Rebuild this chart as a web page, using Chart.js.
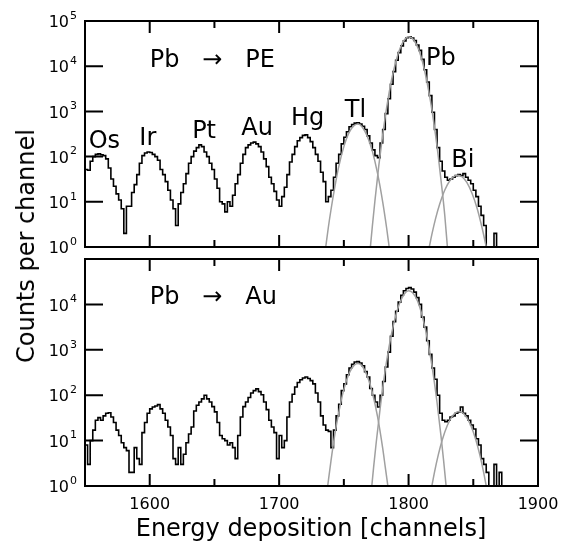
<!DOCTYPE html>
<html>
<head>
<meta charset="utf-8">
<script src="https://cdn.jsdelivr.net/npm/chart.js@4.4.0/dist/chart.umd.min.js"></script>
<style>
  body { margin: 0; background: #fff; }
  #wrap { position: relative; width: 569px; height: 541px; font-family: "DejaVu Sans", sans-serif; color: #000; }
  canvas { position: absolute; left: 0; }
  #topChart { top: 0; }
  #botChart { top: 250px; }
  .ytitle { position: absolute; left: 26px; top: 246px; transform: translate(-50%, -50%) rotate(-90deg); font-size: 24px; white-space: nowrap; }
  .xtitle { position: absolute; left: 311px; top: 528px; transform: translate(-50%, -50%); font-size: 24px; white-space: nowrap; }
</style>
</head>
<body>
<div id="wrap">
  <canvas id="topChart" width="569" height="262"></canvas>
  <canvas id="botChart" width="569" height="291"></canvas>
  <div class="ytitle">Counts per channel</div>
  <div class="xtitle">Energy deposition [channels]</div>
</div>
<script>
// histogram bins: 2 channels wide, first bin starts at channel 1550
const binStart = 1550;
const binWidth = 2;

// Pb -> PE, counts per bin (rows of 10 bins = 20 channels)
const countsPE = [
  52, 50, 79, 100, 112, 115, 110, 105, 89, 56,          // 1550
  32, 22, 15, 11, 7, 2, 8, 8, 16, 24,                   // 1570
  40, 71, 105, 120, 126, 123, 112, 100, 83, 52,         // 1590
  40, 28, 18, 11, 7, 3, 9, 16, 25, 42,                  // 1610
  71, 100, 132, 158, 182, 166, 126, 100, 71, 52,        // 1630
  32, 20, 10, 9, 6, 10, 8, 14, 25, 40,                  // 1650
  71, 112, 158, 182, 200, 209, 191, 166, 126, 89,       // 1670
  60, 35, 25, 17, 11, 8, 13, 21, 40, 76,                // 1690
  112, 166, 224, 263, 295, 302, 263, 214, 158, 112,     // 1710
  79, 45, 28, 10, 13, 18, 35, 71, 112, 191,             // 1730
  269, 355, 457, 513, 550, 562, 525, 468, 398, 288,     // 1750
  200, 141, 105, 95, 200, 398, 891, 1905, 3981, 7586,   // 1770
  13490, 19950, 28180, 36310, 42660, 44670, 41690, 37150, 29510, 22390, // 1790
  14130, 8318, 4467, 2239, 955, 398, 158, 79, 48, 35,   // 1810
  30, 32, 35, 38, 40, 38, 42, 35, 30, 25,               // 1830
  18, 13, 8, 5, 3, 0, 0, 0, 2, 0,                       // 1850
  0                                                     // 1870
];

// Pb -> Au
const countsAu = [
  8, 3, 10, 17, 28, 32, 28, 35, 40, 41,                 // 1550
  33, 25, 17, 13, 9, 7, 6, 2, 2, 7,                     // 1570
  4, 3, 15, 25, 40, 50, 55, 58, 62, 50,                 // 1590
  40, 28, 20, 13, 4, 3, 7, 3, 5, 9,                     // 1610
  14, 20, 45, 60, 71, 83, 100, 83, 71, 56,              // 1630
  43, 25, 13, 11, 10, 8, 9, 7, 4, 13,                   // 1650
  33, 56, 71, 89, 112, 126, 138, 120, 102, 71,          // 1670
  48, 28, 20, 15, 4, 13, 7, 10, 33, 71,                 // 1690
  105, 151, 191, 219, 240, 251, 234, 209, 178, 112,     // 1710
  71, 35, 22, 17, 16, 7, 17, 35, 63, 126,               // 1730
  178, 282, 398, 479, 537, 550, 513, 447, 331, 251,     // 1750
  141, 100, 71, 55, 100, 200, 417, 891, 1995, 4169,     // 1770
  7079, 11220, 15850, 19950, 22390, 23440, 21880, 18620, 14130, 10000, // 1790
  5248, 3162, 1585, 794, 398, 224, 100, 40, 28, 26,     // 1810
  28, 33, 35, 40, 43, 55, 40, 35, 28, 22,               // 1830
  18, 11, 8, 4, 3, 2, 0, 0, 3, 0,                       // 1850
  2, 0                                                  // 1870
];

// fitted peaks [channel, counts] (grey curves)
const fitTlPE = [[1736,1],[1738,2.7],[1740,6.5],[1743,21],[1746,59],[1750,166],[1754,339],[1758,490],[1761,525],[1764,457],[1768,288],[1772,132],[1776,43],[1780,10],[1783,2.7],[1785,1]];
const fitPbPE = [[1770.5,1],[1772,2.85],[1774,10.5],[1777,63],[1780,302],[1784,1780],[1788,7080],[1792,19000],[1796,35300],[1800,44700],[1804,38000],[1808,22400],[1812,8900],[1816,2400],[1820,447],[1823,98],[1826,17.4],[1828,4.9],[1830,1]];
const fitBiPE = [[1816,1],[1818,1.9],[1821,4.4],[1824,8.8],[1828,18.2],[1832,29.6],[1836,38],[1838,38.9],[1841,36.3],[1845,26.9],[1849,15.5],[1853,7.1],[1857,2.5],[1860,1]];

const fitTlAu = [[1737.5,1],[1740,3.5],[1743,13.5],[1746,41],[1750,134],[1754,300],[1758,460],[1761,500],[1764,445],[1768,270],[1772,115],[1776,34],[1780,6.8],[1782,2.6],[1784,1]];
const fitPbAu = [[1771.6,1],[1773,2.6],[1775,9.1],[1778,50],[1781,229],[1785,1200],[1789,4270],[1793,10500],[1797,17400],[1800,20000],[1803,18300],[1807,11700],[1811,5000],[1815,1480],[1819,295],[1822,69],[1825,13],[1827,3.8],[1829,1]];
const fitBiAu = [[1818,1],[1820,2],[1823,4.9],[1826,10.3],[1830,21.8],[1834,35],[1839,43.6],[1844,35],[1848,21.8],[1852,10.3],[1855,4.9],[1858,2],[1860,1]];

// axes
const xMin = 1550, xMax = 1900;
const xTickValues = [1550, 1600, 1650, 1700, 1750, 1800, 1850, 1900];
const xTickLabels = [1600, 1700, 1800, 1900];
const yTickPowers = [0, 1, 2, 3, 4, 5];
const yLabelsPE = [0, 1, 2, 3, 4, 5];
const yLabelsAu = [0, 1, 2, 3, 4];

// peak names, placed at [channel, counts] (text baseline)
const namesPE = [
  { text: 'Pb   \u2192   PE', x: 1600, y: 9550, align: 'left' },
  { text: 'Os', x: 1565, y: 155 },
  { text: 'Ir', x: 1598.5, y: 182 },
  { text: 'Pt', x: 1642, y: 257 },
  { text: 'Au', x: 1683, y: 302 },
  { text: 'Hg', x: 1722, y: 501 },
  { text: 'Tl', x: 1759, y: 759 },
  { text: 'Pb', x: 1825, y: 10700 },
  { text: 'Bi', x: 1842, y: 59 }
];
const namesAu = [
  { text: 'Pb   \u2192   Au', x: 1600, y: 10000, align: 'left' }
];

Chart.defaults.font.family = '"DejaVu Sans", sans-serif';

function histPoints(counts) {
  // empty channels sit on the axis floor of the log scale
  const pts = counts.map((c, i) => ({ x: binStart + i * binWidth, y: Math.max(c, 1) }));
  pts.push({ x: binStart + counts.length * binWidth, y: pts[pts.length - 1].y });
  return pts;
}

function fitDataset(pairs) {
  return {
    data: pairs.map(p => ({ x: p[0], y: p[1] })),
    borderColor: '#a0a0a0',
    borderWidth: 1.5,
    pointRadius: 0,
    cubicInterpolationMode: 'monotone',
    fill: false,
    order: 0
  };
}

function framePlugin(yLabels, xLabels, names) {
  return {
    id: 'frameTicks',
    afterDatasetsDraw(chart) {
      const { ctx, chartArea: a, scales: { x, y } } = chart;
      ctx.save();
      ctx.strokeStyle = '#000';
      ctx.lineWidth = 2;
      ctx.strokeRect(a.left, a.top, a.right - a.left, a.bottom - a.top);

      // inward ticks on all four sides
      ctx.beginPath();
      xTickValues.forEach(v => {
        const px = x.getPixelForValue(v);
        const len = v % 100 === 0 ? 12 : 7;
        ctx.moveTo(px, a.bottom); ctx.lineTo(px, a.bottom - len);
        ctx.moveTo(px, a.top); ctx.lineTo(px, a.top + len);
      });
      yTickPowers.forEach(p => {
        const py = y.getPixelForValue(Math.pow(10, p));
        ctx.moveTo(a.left, py); ctx.lineTo(a.left + 18, py);
        ctx.moveTo(a.right, py); ctx.lineTo(a.right - 18, py);
      });
      ctx.stroke();

      ctx.fillStyle = '#000';
      // y labels 10^n
      yLabels.forEach(p => {
        const py = y.getPixelForValue(Math.pow(10, p));
        ctx.font = '16px "DejaVu Sans"';
        ctx.textAlign = 'right';
        ctx.textBaseline = 'middle';
        ctx.fillText('10', a.left - 16, py + 2);
        ctx.font = '11px "DejaVu Sans"';
        ctx.textAlign = 'left';
        ctx.fillText(String(p), a.left - 15, py - 5);
      });

      // x labels
      ctx.font = '16px "DejaVu Sans"';
      ctx.textAlign = 'center';
      ctx.textBaseline = 'middle';
      xLabels.forEach(v => {
        ctx.fillText(String(v), x.getPixelForValue(v), a.bottom + 19);
      });

      // peak names
      ctx.font = '24px "DejaVu Sans"';
      ctx.textBaseline = 'alphabetic';
      names.forEach(n => {
        ctx.textAlign = n.align || 'center';
        ctx.fillText(n.text, x.getPixelForValue(n.x), y.getPixelForValue(n.y));
      });
      ctx.restore();
    }
  };
}

function makeChart(id, counts, fits, padding, yLabels, xLabels, names) {
  const datasets = fits.map(fitDataset);
  datasets.push({
    data: histPoints(counts),
    stepped: true,
    borderColor: '#000',
    borderWidth: 1.6,
    pointRadius: 0,
    fill: false,
    order: 1
  });
  return new Chart(document.getElementById(id), {
    type: 'line',
    data: { datasets },
    options: {
      responsive: false,
      devicePixelRatio: 1,
      animation: false,
      layout: { padding, autoPadding: false },
      scales: {
        x: { type: 'linear', min: xMin, max: xMax, display: false },
        y: { type: 'logarithmic', min: 1, max: 100000, display: false }
      },
      plugins: { legend: { display: false }, tooltip: { enabled: false } }
    },
    plugins: [framePlugin(yLabels, xLabels, names)]
  });
}

makeChart('topChart', countsPE, [fitTlPE, fitPbPE, fitBiPE],
  { left: 85, right: 31, top: 21, bottom: 15 }, yLabelsPE, [], namesPE);
makeChart('botChart', countsAu, [fitTlAu, fitPbAu, fitBiAu],
  { left: 85, right: 31, top: 9, bottom: 55 }, yLabelsAu, xTickLabels, namesAu);
</script>
</body>
</html>
